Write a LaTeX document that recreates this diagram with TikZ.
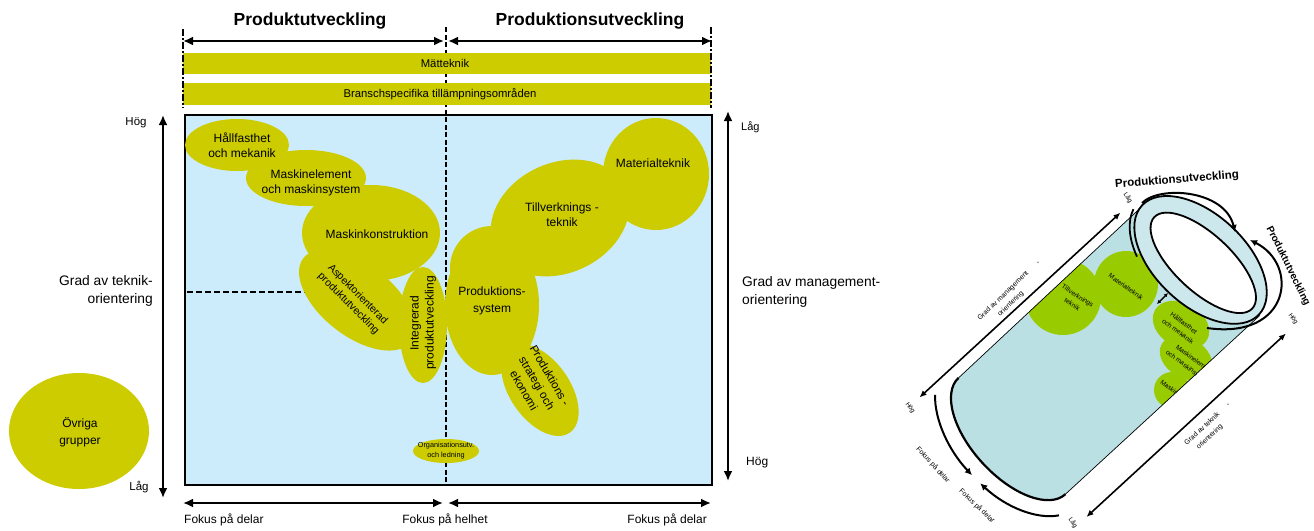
\documentclass[tikz,border=0pt]{standalone}
\usepackage{fontspec}
\setmainfont{Liberation Sans}
\usetikzlibrary{arrows.meta}
\definecolor{olv}{RGB}{204,204,0}
\definecolor{skyb}{RGB}{204,236,252}
\definecolor{tubec}{RGB}{187,224,228}
\definecolor{rimc}{RGB}{205,232,236}
\definecolor{leaf}{RGB}{153,204,0}
\newcommand\fsz[2]{\fontsize{#1}{#2}\selectfont}
\begin{document}
\begin{tikzpicture}[x=1pt,y=-1pt,
  lbl/.style={inner sep=0pt, text=black},
  head/.style={lbl, font=\bfseries\fsz{17.5}{20}},
  bartext/.style={lbl, font=\fsz{11.3}{13}},
  bub/.style={lbl, align=center, font=\fsz{12}{15}},
  axislbl/.style={lbl, font=\fsz{13.8}{18}},
  small/.style={lbl, font=\fsz{12}{14}},
  tiny/.style={lbl, align=center, font=\fsz{7}{11}},
  gtext/.style={lbl, align=center, font=\fsz{6.6}{10}},
  blob/.style={fill=olv},
  gblob/.style={fill=leaf},
  axisarrow/.style={line width=2.6pt, {Latex[length=10pt,width=9pt]}-{Latex[length=10pt,width=9pt]}},
  thinarrow/.style={line width=1.6pt, {Latex[length=7pt,width=6pt]}-{Latex[length=7pt,width=6pt]}},
  arcarrow/.style={line width=2pt, -{Latex[length=7pt,width=7pt]}},
  midline/.style={line width=2.6pt, dash pattern=on 5pt off 2.5pt},
  edgeline/.style={line width=2pt, dash pattern=on 7pt off 2pt on 2pt off 2pt}]
\useasboundingbox (0,0) rectangle (1314,530);

% ---------------- left: portfolio map ----------------
\fill[skyb] (185,115) rectangle (712,485);
\coordinate (midT) at (446,27);
\coordinate (midB) at (446,484);
\draw[midline] (midT) -- (midB);
\coordinate (hL) at (187,292);
\coordinate (hR) at (320,292);
\draw[line width=2pt, dash pattern=on 6pt off 3pt] (hL) -- (hR);
\draw[line width=1.8pt] (185,115) rectangle (712,485);

% horizontal bands
\fill[olv] (183,53) rectangle (711,74);
\fill[olv] (183,83) rectangle (711,105);
\node[bartext] (mat) at (445,63.5) {Mätteknik};
\node[bartext] (bra) at (440,94) {Branschspecifika tillämpningsområden};

% band limits
\coordinate (eLT) at (183,29);
\coordinate (eLB) at (183,108);
\coordinate (eRT) at (711,27);
\coordinate (eRB) at (711,108);
\draw[edgeline] (eLT) -- (eLB);
\draw[edgeline] (eRT) -- (eRB);

% top arrows and titles
\coordinate (tL) at (183,41);
\coordinate (tM1) at (444,41);
\coordinate (tM2) at (448,41);
\coordinate (tR) at (712,41);
\draw[axisarrow] (tL) -- (tM1);
\draw[axisarrow] (tM2) -- (tR);
\node[head] (pu) at (310,21) {Produktutveckling};
\node[head] (pr) at (590,21) {Produktionsutveckling};

% bottom arrows
\coordinate (bL) at (183,503);
\coordinate (bM1) at (443,503);
\coordinate (bM2) at (448,503);
\coordinate (bR) at (711,503);
\draw[axisarrow] (bL) -- (bM1);
\draw[axisarrow] (bM2) -- (bR);
\node[small, anchor=west] (fd1) at (184,520) {Fokus på delar};
\node[small] (fh) at (445,520) {Fokus på helhet};
\node[small, anchor=east] (fd2) at (707,520) {Fokus på delar};

% vertical axes
\coordinate (lvT) at (163,115);
\coordinate (lvB) at (163,498);
\draw[axisarrow] (lvT) -- (lvB);
\coordinate (rvT) at (728,111);
\coordinate (rvB) at (728,481);
\draw[axisarrow] (rvT) -- (rvB);
\node[lbl, font=\fsz{11.5}{13}] (lh) at (136,123) {Hög};
\node[lbl, font=\fsz{11.5}{13}] (ll) at (139,487) {Låg};
\node[lbl, font=\fsz{11}{13}, anchor=west] (rl) at (741,127) {Låg};
\node[lbl, font=\fsz{12}{13}, anchor=west] (rh) at (746,463) {Hög};
\node[axislbl, align=right, anchor=east] (gt) at (153,291) {Grad av teknik-\\orientering};
\node[axislbl, align=left, anchor=west] (gm) at (742,292) {Grad av management-\\orientering};

% knowledge areas
\fill[blob] (237,145) ellipse[x radius=52, y radius=26];
\fill[blob] (306,178) ellipse[x radius=60, y radius=28];
\fill[blob] (371,233) ellipse[x radius=69, y radius=48];
\fill[blob, rotate around={-38:(357,300)}] (357,300) ellipse[x radius=68, y radius=36];
\fill[blob] (423,325) ellipse[x radius=24, y radius=58];
\fill[blob] (492,305) ellipse[x radius=47, y radius=70];
\fill[blob] (492,268) circle[radius=42];
\fill[blob, rotate around={25:(560,218)}] (560,218) ellipse[x radius=72, y radius=55];
\fill[blob] (656,174) ellipse[x radius=53, y radius=56];
\fill[blob, rotate around={-55:(540,390)}] (540,390) ellipse[x radius=52, y radius=30];
\fill[blob] (446,451) ellipse[x radius=33, y radius=12];
\fill[blob] (79,431) ellipse[x radius=70, y radius=58];

\node[bub] (hall) at (242,145) {Hållfasthet\\och mekanik};
\node[bub] (mel) at (311,183) {Maskinelement\\och maskinsystem};
\node[bub] (mk) at (377,234) {Maskinkonstruktion};
\node[bub, font=\fsz{10.5}{13}, rotate=-45] (asp) at (353,299) {Aspektorienterad\\produktutveckling};
\node[bub, rotate=90] (integ) at (423,323) {Integrerad\\produktutveckling};
\node[bub, font=\fsz{12}{17}] (psys) at (492,301) {Produktions-\\system};
\node[bub] (tillv) at (562,215) {Tillverknings -\\teknik};
\node[bub] (matt) at (653,163) {Materialteknik};
\node[bub, font=\fsz{11.5}{15}, rotate=-60] (pstr) at (537,383) {Produktions -\\strategi och\\ekonomi};
\node[bub, font=\fsz{7.3}{10}] (org) at (446,451) {Organisationsutv.\\och ledning};
\node[bub, font=\fsz{12}{17}] (ovr) at (80,432) {Övriga\\grupper};

% ---------------- right: tube view ----------------
\begin{scope}[shift={(1012,436)}, rotate=42.6, x=1pt, y=1pt]
  \coordinate (capU) at (0,79);
  \coordinate (capL) at (0,-79);
  \coordinate (rimU) at (252,81);
  \coordinate (rimL) at (264,-79);
  \fill[tubec] (capU) -- (rimU) -- (rimL) -- (capL)
     arc[start angle=270, end angle=90, x radius=40, y radius=79] -- cycle;
  \begin{scope}
    \clip (capU) -- (rimU) -- (rimL) -- (capL)
       arc[start angle=270, end angle=90, x radius=40, y radius=79] -- cycle;
    \begin{scope}[reset cm, x=1pt, y=-1pt]
      \fill[gblob] (1063,297) circle[radius=38];
      \fill[gblob] (1126,284) ellipse[x radius=32, y radius=33];
      \fill[gblob, rotate around={-30:(1181,325)}] (1181,325) ellipse[x radius=30, y radius=22];
      \fill[gblob, rotate around={-30:(1186,358)}] (1186,358) ellipse[x radius=28, y radius=20];
      \fill[gblob] (1172,390) circle[radius=18];
      \node[gtext, rotate=-33] (g1) at (1075,300) {Tillverknings\\teknik};
      \node[gtext, rotate=-36] (g2) at (1126,287) {Materialteknik};
      \node[gtext, rotate=-36] (g3) at (1181,327) {Hållfasthet\\och mekanik};
      \node[gtext, rotate=-37] (g4) at (1191,364) {Maskinelement\\och maskinsystem};
      \node[gtext, rotate=-37, anchor=west] (g5) at (1161,381) {Maskinkonstruktion};
    \end{scope}
  \end{scope}
  \draw[line width=2.2pt] (capU) arc[start angle=90, end angle=270, x radius=40, y radius=79];
  \draw[line width=0.7pt] (capU) -- (rimU);
  \draw[line width=0.7pt] (capL) -- (rimL);
  % open end of the tube
  \filldraw[fill=rimc, line width=1.8pt, rotate around={4.4:(258,2)}] (258,2) ellipse[x radius=45.5, y radius=80];
  \filldraw[fill=white, line width=1.8pt, rotate around={4.4:(258,-2)}] (258,-2) ellipse[x radius=28.5, y radius=67];
  \draw[line width=1.8pt, rotate around={4.4:(258,2)}] ({258+50*cos(100)},{2+85*sin(100)})
     arc[start angle=100, end angle=145, x radius=50, y radius=85];
  % orientation axes along the tube
  \coordinate (mgA) at (-42,91);
  \coordinate (mgB) at (231,91);
  \draw[thinarrow] (mgA) -- (mgB);
  \coordinate (tkA) at (0,-110);
  \coordinate (tkB) at (271,-110);
  \draw[thinarrow] (tkA) -- (tkB);
  % focus arrows round the closed end
  \draw[arcarrow] ({56*cos(121)},{96*sin(121)}) arc[start angle=121, end angle=181, x radius=56, y radius=96];
  \draw[arcarrow] ({56*cos(250)},{96*sin(250)}) arc[start angle=250, end angle=188, x radius=56, y radius=96];
\end{scope}

% arrows round the open end
\coordinate (puS) at (1142,203);
\coordinate (puE) at (1235,232);
\draw[arcarrow] (puS) .. controls (1160,185) and (1225,190) .. (puE);
\coordinate (ptS) at (1207,328);
\coordinate (ptE) at (1250,240);
\draw[arcarrow] (ptS) .. controls (1290,340) and (1300,265) .. (ptE);
\coordinate (sa1) at (1157,304);
\coordinate (sa2) at (1168,293);
\draw[line width=1.4pt, {Latex[length=4pt,width=4pt]}-{Latex[length=4pt,width=4pt]}] (sa1) -- (sa2);

\node[lbl, font=\bfseries\fsz{11.5}{13}, rotate=4.6] (rpu) at (1177,180) {Produktionsutveckling};
\node[lbl, font=\bfseries\fsz{10}{12}, rotate=-63.7] (rpt) at (1288,266) {Produktutveckling};
\node[tiny, rotate=44] (mgmt) at (1007,300) {Grad av management\\orientering};
\node[tiny] (mgdash) at (1038,263) {-};
\node[tiny, rotate=43] (tek) at (1206,433) {Grad av teknik\\orientering};
\node[tiny] (tkdash) at (1228,405) {-};
\node[tiny, rotate=-48] (fk1) at (933,465) {Fokus på delar};
\node[tiny, rotate=-44] (fk2) at (977,506) {Fokus på delar};
\node[tiny, font=\fsz{6.5}{8}, rotate=-55] (rl1) at (1128,198) {Låg};
\node[tiny, font=\fsz{6.5}{8}, rotate=-55] (rh1) at (910,408) {Hög};
\node[tiny, font=\fsz{6.5}{8}, rotate=-55] (rh2) at (1293,319) {Hög};
\node[tiny, font=\fsz{6.5}{8}, rotate=-55] (rl2) at (1073,523) {Låg};
\end{tikzpicture}
\end{document}
